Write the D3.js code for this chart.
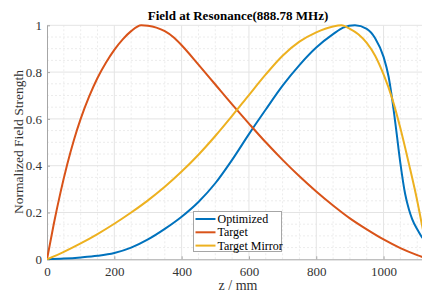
<!DOCTYPE html>
<html>
<head>
<meta charset="utf-8">
<script src="https://cdn.jsdelivr.net/npm/d3@7"></script>
<style>
  body { margin: 0; background: #fff; }
  svg { display: block; font-family: "Liberation Serif", "Times New Roman", serif; }
</style>
</head>
<body>
<svg id="chart" width="422" height="298"></svg>
<script>
// values (z in mm, normalized field)
var zTarget = [0, 20, 40, 60, 80, 100, 125, 150, 175, 200, 225, 250, 280, 300, 325, 350, 375, 400, 450, 500, 550, 600, 650, 700, 750, 800, 850, 900, 950, 1000, 1050, 1100, 1135];
var target  = [0, 0.15, 0.285, 0.405, 0.51, 0.6, 0.695, 0.775, 0.84, 0.895, 0.94, 0.975, 1.0, 0.998, 0.99, 0.975, 0.95, 0.915, 0.832, 0.747, 0.662, 0.58, 0.5, 0.425, 0.355, 0.29, 0.23, 0.175, 0.128, 0.085, 0.048, 0.018, 0];

var zMirror = [0, 50, 100, 150, 200, 250, 300, 350, 400, 450, 500, 550, 600, 650, 700, 750, 800, 850, 875, 900, 925, 950, 975, 1000, 1025, 1050, 1075, 1100, 1113, 1125];
var mirror  = [0, 0.032, 0.068, 0.108, 0.152, 0.2, 0.252, 0.31, 0.375, 0.447, 0.527, 0.613, 0.702, 0.79, 0.87, 0.93, 0.97, 0.995, 1.0, 0.985, 0.962, 0.925, 0.87, 0.79, 0.69, 0.56, 0.41, 0.25, 0.155, 0.07];

var zOpt = [0, 50, 100, 150, 200, 250, 300, 350, 400, 450, 500, 550, 600, 650, 700, 750, 800, 850, 880, 915, 950, 975, 1000, 1015, 1025, 1037, 1050, 1064, 1075, 1085, 1100, 1113, 1125];
var optimized = [0, 0.003, 0.008, 0.015, 0.027, 0.05, 0.085, 0.13, 0.182, 0.245, 0.325, 0.425, 0.535, 0.64, 0.742, 0.83, 0.905, 0.962, 0.99, 1.0, 0.985, 0.945, 0.865, 0.78, 0.69, 0.56, 0.41, 0.28, 0.215, 0.172, 0.128, 0.097, 0.078];

var xTicks = [0, 200, 400, 600, 800, 1000];
var yTicks = [0, 0.2, 0.4, 0.6, 0.8, 1];
var legendNames = ["Optimized", "Target", "Target Mirror"];
var colors = ["#0072BD", "#D95319", "#EDB120"];

var svg = d3.select("#chart");
var x = d3.scaleLinear().domain([0, 1135]).range([47, 429]);
var y = d3.scaleLinear().domain([0, 1]).range([259.3, 25.3]);

// grid: minor first, then major
var gMinor = svg.append("g");
gMinor.selectAll("line.vx")
  .data(d3.range(50, 1135, 50).filter(d => d % 200 != 0))
  .join("line")
  .attr("x1", d => x(d)).attr("x2", d => x(d))
  .attr("y1", y(0)).attr("y2", y(1))
  .attr("stroke", "#ececec").attr("stroke-dasharray", "2,2");
gMinor.selectAll("line.hy")
  .data(d3.range(1, 20).map(d => d * 0.05).filter((d, i) => (i + 1) % 4 != 0))
  .join("line")
  .attr("x1", x(0)).attr("x2", 429)
  .attr("y1", d => y(d)).attr("y2", d => y(d))
  .attr("stroke", "#ececec").attr("stroke-dasharray", "2,2");

var gMajor = svg.append("g");
gMajor.selectAll("line.v")
  .data(xTicks.slice(1))
  .join("line")
  .attr("x1", d => x(d)).attr("x2", d => x(d))
  .attr("y1", y(0)).attr("y2", y(1))
  .attr("stroke", "#e4e4e4");
gMajor.selectAll("line.h")
  .data(yTicks.slice(1))
  .join("line")
  .attr("x1", x(0)).attr("x2", 429)
  .attr("y1", d => y(d)).attr("y2", d => y(d))
  .attr("stroke", "#e4e4e4");

// axes
var xAxis = svg.append("g")
  .attr("transform", "translate(0," + y(0) + ")")
  .call(d3.axisBottom(x).tickValues(xTicks).tickFormat(d3.format("d")).tickSizeInner(-3).tickSizeOuter(0).tickPadding(7));
var yAxis = svg.append("g")
  .attr("transform", "translate(" + x(0) + ",0)")
  .call(d3.axisLeft(y).tickValues(yTicks).tickFormat(d3.format("")).tickSizeInner(-3).tickSizeOuter(0).tickPadding(5));

[xAxis, yAxis].forEach(function (g) {
  g.select(".domain").attr("stroke", "#a6a6a6");
  g.selectAll(".tick line").attr("stroke", "#a6a6a6");
  g.selectAll(".tick text")
    .attr("fill", "#333")
    .style("font-family", "'Liberation Serif', serif")
    .style("font-size", "13px");
});

// lines
svg.append("clipPath").attr("id", "plotclip")
  .append("rect").attr("x", x(0)).attr("y", 0).attr("width", 429 - x(0)).attr("height", y(0) + 1);

var line = d3.line().x(d => x(d[0])).y(d => y(d[1])).curve(d3.curveMonotoneX);
var series = [
  d3.zip(zOpt, optimized),
  d3.zip(zTarget, target),
  d3.zip(zMirror, mirror)
];
var gLines = svg.append("g").attr("clip-path", "url(#plotclip)");
gLines.selectAll("path")
  .data(series)
  .join("path")
  .attr("d", line)
  .attr("fill", "none")
  .attr("stroke", (d, i) => colors[i])
  .attr("stroke-width", 2)
  .attr("stroke-linejoin", "round");

// title and labels
svg.append("text")
  .attr("x", 238).attr("y", 19.5)
  .attr("text-anchor", "middle")
  .style("font-size", "13px").style("font-weight", "bold")
  .attr("fill", "#000")
  .text("Field at Resonance(888.78 MHz)");

svg.append("text")
  .attr("x", 238).attr("y", 290)
  .attr("text-anchor", "middle")
  .style("font-size", "14px")
  .attr("fill", "#333")
  .text("z / mm");

svg.append("text")
  .attr("transform", "translate(23,142) rotate(-90)")
  .attr("text-anchor", "middle")
  .style("font-size", "13.5px")
  .attr("fill", "#333")
  .text("Normalized Field Strength");

// legend
var legend = svg.append("g").attr("transform", "translate(193.5,211.5)");
legend.append("rect")
  .attr("width", 88).attr("height", 40)
  .attr("fill", "#fff").attr("stroke", "#a6a6a6");
var rows = legend.selectAll("g.row")
  .data(legendNames)
  .join("g")
  .attr("transform", (d, i) => "translate(0," + (7.5 + i * 13.3) + ")");
rows.append("line")
  .attr("x1", 2).attr("x2", 22)
  .attr("stroke", (d, i) => colors[i]).attr("stroke-width", 2);
rows.append("text")
  .attr("x", 24).attr("y", 4)
  .style("font-size", "12px")
  .attr("fill", "#000")
  .text(d => d);
</script>
</body>
</html>
